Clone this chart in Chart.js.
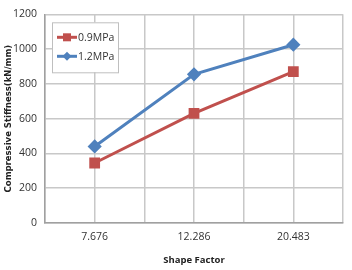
<!DOCTYPE html>
<html>
<head>
<meta charset="utf-8">
<script src="https://cdn.jsdelivr.net/npm/chart.js@4/dist/chart.umd.min.js"></script>
<style>
  html, body { margin: 0; padding: 0; background: #fff; }
  #wrap { width: 352px; height: 270px; }
</style>
</head>
<body>
<div id="wrap"><canvas id="chart1" width="352" height="270"></canvas></div>
<script>
var categories = ['7.676', '12.286', '20.483'];
var series09 = [345, 630, 870];
var series12 = [440, 855, 1025];
var seriesNames = ['0.9MPa', '1.2MPa'];
var yTicks = [0, 200, 400, 600, 800, 1000, 1200];

// each category sits in the middle of a 2-unit slot on a linear axis
function toPoints(vals) {
    return vals.map(function (v, i) { return { x: 2 * i + 1, y: v }; });
}

var boxLegend = {
    id: 'boxLegend',
    afterDatasetsDraw: function (chart) {
        var c = chart.ctx;
        var a = chart.chartArea;
        var x0 = a.left + 7, y0 = a.top + 8, w = 66, h = 50;
        c.save();
        c.fillStyle = '#fff';
        c.fillRect(x0, y0, w, h);
        c.strokeStyle = '#bfbfbf';
        c.lineWidth = 1;
        c.strokeRect(x0 + 0.5, y0 + 0.5, w, h);
        c.font = '10.5px "Open Sans", sans-serif';
        c.textBaseline = 'middle';
        chart.data.datasets.forEach(function (ds, i) {
            var yy = y0 + 15 + i * 19;
            c.strokeStyle = ds.borderColor;
            c.lineWidth = 3;
            c.beginPath();
            c.moveTo(x0 + 5, yy);
            c.lineTo(x0 + 25, yy);
            c.stroke();
            c.fillStyle = ds.backgroundColor;
            if (ds.pointStyle === 'rect') {
                c.fillRect(x0 + 11, yy - 4, 8, 8);
            } else {
                c.beginPath();
                c.moveTo(x0 + 15, yy - 4.5);
                c.lineTo(x0 + 19.5, yy);
                c.lineTo(x0 + 15, yy + 4.5);
                c.lineTo(x0 + 10.5, yy);
                c.closePath();
                c.fill();
            }
            c.fillStyle = '#333';
            c.fillText(ds.label, x0 + 26, yy + 1);
        });
        c.restore();
    }
};

var ctx1 = document.getElementById('chart1').getContext('2d');
var chart1 = new Chart(ctx1, {
    type: 'line',
    data: {
        datasets: [{
            label: seriesNames[0],
            data: toPoints(series09),
            borderColor: '#C0504D',
            backgroundColor: '#C0504D',
            borderWidth: 3,
            pointStyle: 'rect',
            pointRadius: 5.5,
            pointHoverRadius: 5.5
        }, {
            label: seriesNames[1],
            data: toPoints(series12),
            borderColor: '#4F81BD',
            backgroundColor: '#4F81BD',
            borderWidth: 3,
            pointStyle: 'rectRot',
            pointRadius: 5,
            pointHoverRadius: 5
        }]
    },
    options: {
        responsive: false,
        animation: false,
        layout: { padding: { top: 7, right: 9, left: 0, bottom: 0 } },
        plugins: {
            legend: { display: false },
            tooltip: { enabled: false }
        },
        scales: {
            x: {
                type: 'linear',
                min: 0,
                max: 6,
                afterFit: function (s) { s.height = 47; },
                ticks: {
                    stepSize: 1,
                    autoSkip: false,
                    maxRotation: 0,
                    color: '#333',
                    font: { size: 10.5, family: '"Open Sans", sans-serif' },
                    padding: 8,
                    callback: function (v) {
                        return v % 2 === 1 ? categories[(v - 1) / 2] : '';
                    }
                },
                grid: { color: '#c8c8c8', lineWidth: 1.5, drawTicks: false },
                border: { color: '#a0a0a0', width: 1.5 },
                title: {
                    display: true,
                    text: 'Shape Factor',
                    color: '#222',
                    font: { size: 9.5, weight: 'bold', family: '"Open Sans", sans-serif' },
                    padding: { top: 4 }
                }
            },
            y: {
                min: 0,
                max: 1200,
                afterFit: function (s) { s.width = 45; },
                afterBuildTicks: function (s) {
                    s.ticks = yTicks.map(function (v) { return { value: v }; });
                },
                ticks: {
                    color: '#333',
                    font: { size: 10.5, family: '"Open Sans", sans-serif' },
                    padding: 8,
                    callback: function (v) { return String(v); }
                },
                grid: { color: '#c8c8c8', lineWidth: 1.5, drawTicks: false },
                border: { color: '#a0a0a0', width: 1.5 },
                title: {
                    display: true,
                    text: 'Compressive Stiffness(kN/mm)',
                    color: '#222',
                    font: { size: 8.5, weight: 'bold', family: '"DejaVu Sans", sans-serif' },
                    padding: { bottom: 1 }
                }
            }
        }
    },
    plugins: [boxLegend]
});
</script>
</body>
</html>
